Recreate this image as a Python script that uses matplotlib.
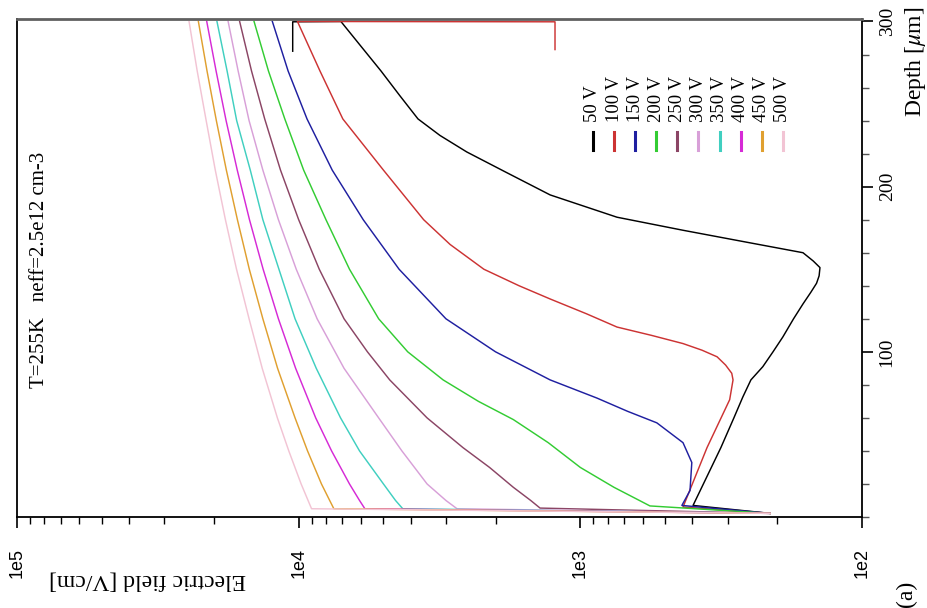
import matplotlib
matplotlib.use("Agg")
import matplotlib.pyplot as plt
from matplotlib.lines import Line2D
from matplotlib.ticker import LogLocator, NullFormatter, MultipleLocator

# ---- simulated electric field profiles, T=255 K, neff=2.5e12 cm-3 ----
# depth in micrometres, field in V/cm
voltages = ["50 V", "100 V", "150 V", "200 V", "250 V",
            "300 V", "350 V", "400 V", "450 V", "500 V"]
colors = ["#000000", "#cc3333", "#1f1fa0", "#33cc33", "#8b4565",
          "#d8a0d8", "#40cfc0", "#d62ad6", "#e0a030", "#f2c4d4"]

depth_50 = [2.2, 7, 22, 42, 60, 72.6, 83, 91, 100, 109, 120, 129, 136, 141.5,
            146, 151, 155, 160, 166, 173.6, 181.5, 195, 209, 221, 231, 241,
            255, 270, 285, 300, 299.8, 282]
field_50 = [212, 398, 361, 317, 285, 265, 248, 225, 207, 191, 175, 162, 152, 145,
            142, 141, 149, 162, 250, 432, 741, 1280, 1850, 2530, 3150, 3770,
            4370, 5100, 6010, 7080, 10500, 10500]

depth_100 = [2.2, 6, 42, 71, 83, 87, 92, 97, 101, 105, 110, 115, 123, 132, 140,
             150, 165, 180, 210, 241, 270, 300, 299.8, 283]
field_100 = [212, 432, 355, 295, 287, 290, 305, 327, 370, 432, 560, 741, 950,
             1280, 1650, 2200, 2900, 3600, 5000, 6970, 8400, 10100, 1230, 1230]

depth_150 = [2.2, 7, 16, 33, 45, 57, 64, 72, 83, 100, 120, 150, 180, 210, 241,
             270, 300]
field_150 = [212, 436, 408, 402, 432, 535, 680, 873, 1280, 2000, 3000, 4400,
             5900, 7600, 9340, 10900, 12400]

depth_200 = [2.2, 6.7, 18, 30, 45, 59, 70, 83, 100, 120, 150, 180, 210, 241,
             270, 300]
field_200 = [212, 566, 760, 1000, 1300, 1730, 2300, 3070, 4100, 5200, 6600,
             8000, 9600, 11200, 12800, 14400]

depth_250 = [2.2, 5.4, 10, 18, 30, 42, 60, 83, 100, 120, 150, 180, 210, 241,
             270, 300]
field_250 = [212, 1390, 1500, 1730, 2100, 2610, 3500, 4750, 5700, 6900, 8450,
             10000, 11600, 13200, 14700, 16200]

depth_hv = [2.2, 5, 10, 20, 40, 60, 90, 120, 150, 180, 210, 240, 270, 300]
field_300 = [212, 2740, 3000, 3500, 4300, 5200, 6900, 8600, 10200, 11800,
             13400, 15000, 16400, 17800]
field_350 = [212, 4270, 4530, 5000, 6080, 7100, 8660, 10300, 11750, 13400,
             14850, 16600, 17950, 19500]
field_400 = [212, 5820, 6080, 6600, 7640, 8700, 10250, 11800, 13370, 14950,
             16520, 18100, 19640, 21200]
field_450 = [212, 7500, 7760, 8300, 9300, 10300, 11880, 13400, 14970, 16500,
             18060, 19600, 21150, 22700]
field_500 = [212, 9000, 9260, 9800, 10840, 11900, 13470, 15000, 16620, 18200,
             19770, 21300, 22920, 24500]

curves = [
    (depth_50, field_50), (depth_100, field_100), (depth_150, field_150),
    (depth_200, field_200), (depth_250, field_250), (depth_hv, field_300),
    (depth_hv, field_350), (depth_hv, field_400), (depth_hv, field_450),
    (depth_hv, field_500),
]

field_ticks = [1e5, 1e4, 1e3, 1e2]
field_tick_labels = ["1e5", "1e4", "1e3", "1e2"]
depth_ticks = [100, 200, 300]
depth_tick_labels = ["100", "200", "300"]

SERIF = ["Liberation Serif", "DejaVu Serif"]
SANS = ["Liberation Sans", "DejaVu Sans"]
plt.rcParams["mathtext.fontset"] = "stix"

W, H = 928, 608
fig = plt.figure(figsize=(W / 100, H / 100), dpi=100, facecolor="white")
ax = fig.add_axes([17 / W, 1 - 517 / H, 845 / W, 498 / H])

for (d, e), c in zip(curves, colors):
    ax.plot(e, d, color=c, lw=1.05, solid_joinstyle="round")

ax.set_xscale("log")
ax.set_xlim(1e5, 1e2)
ax.set_ylim(0, 301.5)

ax.set_xticks(field_ticks)
ax.set_xticklabels(field_tick_labels, rotation=90, fontsize=13, family=SANS)
ax.xaxis.set_minor_locator(LogLocator(base=10, subs=range(2, 10)))
ax.xaxis.set_minor_formatter(NullFormatter())
ax.tick_params(axis="x", which="major", direction="out", length=8, width=1.2,
               pad=14, bottom=True, top=False)
ax.tick_params(axis="x", which="minor", direction="out", length=5, width=1.0,
               bottom=True, top=False)

ax.yaxis.tick_right()
ax.set_yticks(depth_ticks)
ax.set_yticklabels(depth_tick_labels, rotation=90, va="center",
                   fontsize=14, family=SERIF)
ax.yaxis.set_minor_locator(MultipleLocator(20))
ax.tick_params(axis="y", which="major", direction="out", length=8, width=1.2,
               pad=4, left=False, right=True)
ax.tick_params(axis="y", which="minor", direction="out", length=5, width=1.0,
               left=False, right=True, colors="#555555")

for side in ["left", "bottom", "right"]:
    ax.spines[side].set_color("black")
    ax.spines[side].set_linewidth(1.3)
ax.spines["top"].set_color("#606060")
ax.spines["top"].set_linewidth(2.0)

# axis titles
fig.text(148 / W, 1 - 580 / H, "Electric field [V/cm]", rotation=180,
         ha="center", va="center", fontsize=17, family=SERIF)
fig.text(916 / W, 1 - 62 / H, r"Depth [$\mu$m]", rotation=90,
         ha="center", va="center", fontsize=17, family=SERIF)
fig.text(906 / W, 1 - 607 / H, "(a)", rotation=90, rotation_mode="anchor",
         ha="left", va="center", fontsize=17, family=SERIF)

# run conditions
fig.text(40 / W, 1 - 270 / H, "T=255K   neff=2.5e12 cm-3", rotation=90,
         ha="center", va="center", fontsize=15, family=SERIF)

# legend: vertical labels with short coloured bars beneath
for i, (lab, c) in enumerate(zip(voltages, colors)):
    xp = 593 + 21.1 * i
    fig.text(xp / W, 1 - 122 / H, lab, rotation=90, rotation_mode="anchor",
             ha="left", va="center", fontsize=13.5, family=SERIF)
    fig.add_artist(Line2D([xp / W, xp / W], [1 - 132 / H, 1 - 150 / H],
                          transform=fig.transFigure, color=c, lw=2.2))

fig.savefig("out.png", dpi=100, facecolor="white")
